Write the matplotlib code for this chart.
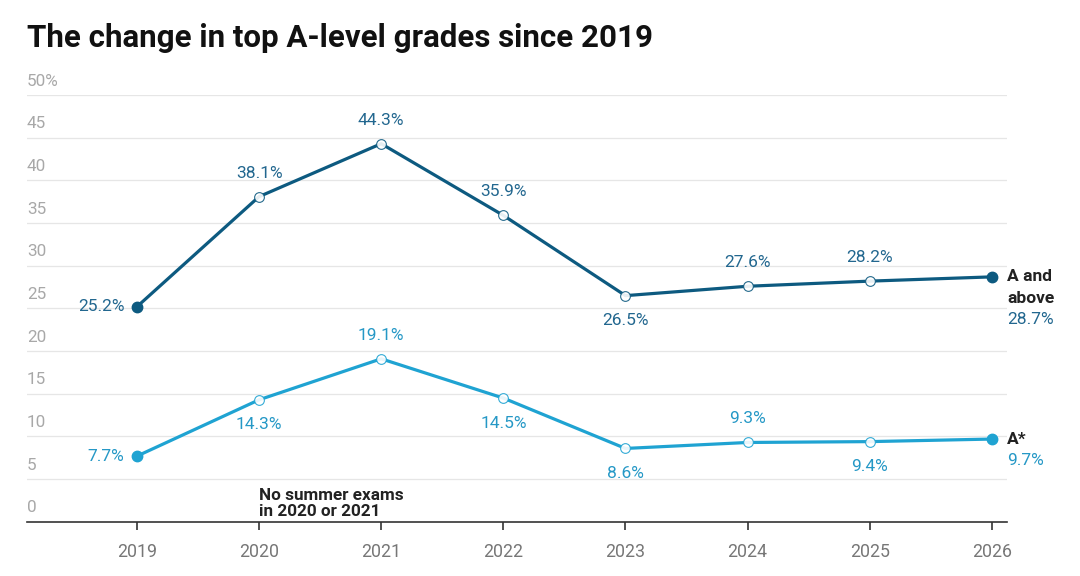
import numpy as np
import matplotlib.pyplot as plt

plt.rcParams['font.family'] = ['Roboto', 'DejaVu Sans']

years = [2019, 2020, 2021, 2022, 2023, 2024, 2025, 2026]
a_above = [25.2, 38.1, 44.3, 35.9, 26.5, 27.6, 28.2, 28.7]
a_star = [7.7, 14.3, 19.1, 14.5, 8.6, 9.3, 9.4, 9.7]
# where each value label sits
a_above_pos = ['left', 'above', 'above', 'above', 'below', 'above', 'above', 'end']
a_star_pos = ['left', 'below', 'above', 'below', 'below', 'above', 'below', 'end']
yticks = [0, 5, 10, 15, 20, 25, 30, 35, 40, 45, 50]
ytick_labels = ['0', '5', '10', '15', '20', '25', '30', '35', '40', '45', '50%']

dark = '#0d5a80'
dark_txt = '#22678f'
light = '#1fa3d2'
light_txt = '#2598c6'
grey = '#a8a8a8'

fig = plt.figure(figsize=(10.8, 5.76), dpi=100)
ax = fig.add_axes([0.025, 0.094, 0.907, 0.741])

for t, tl in zip(yticks, ytick_labels):
    if t > 0:
        ax.axhline(t, color='#e6e6e6', lw=0.9, zorder=0)
    ax.text(2018.1, t + 0.75, tl, color=grey, fontsize=12.3,
            ha='left', va='bottom')


def draw(vals, pos, col, txtcol, name):
    ax.plot(years, vals, color=col, lw=2.3, zorder=2, solid_capstyle='round')
    ax.plot(years[1:-1], vals[1:-1], 'o', ms=7, mfc='white', mec=col,
            mew=0.8, zorder=3, alpha=0.9)
    ax.plot([years[0], years[-1]], [vals[0], vals[-1]], 'o', ms=7.5,
            color=col, zorder=4)
    for x, v, p in zip(years, vals, pos):
        lab = f'{v}%'
        kw = dict(textcoords='offset points', color=txtcol, fontsize=12.5,
                  annotation_clip=False)
        if p == 'above':
            ax.annotate(lab, (x, v), xytext=(0, 17), ha='center',
                        va='center', **kw)
        elif p == 'below':
            ax.annotate(lab, (x, v), xytext=(0, -18), ha='center',
                        va='center', **kw)
        elif p == 'left':
            ax.annotate(lab, (x, v), xytext=(-9, 0), ha='right',
                        va='center', **kw)
        else:
            lines = name.split('\n')
            for i, ln in enumerate(lines):
                ax.annotate(ln, (x, v), xytext=(11, -15.5 * i),
                            textcoords='offset points', ha='left',
                            va='center', color='#222222', fontsize=12.5,
                            fontweight='bold', annotation_clip=False)
            ax.annotate(lab, (x, v), xytext=(11, -15.5 * len(lines)),
                        ha='left', va='center', **kw)


draw(a_above, a_above_pos, dark, dark_txt, 'A and\nabove')
draw(a_star, a_star_pos, light, light_txt, 'A*')

ax.text(2020, 0.3, 'No summer exams\nin 2020 or 2021', fontsize=12.3,
        fontweight='bold', color='#222222', ha='left', va='bottom',
        linespacing=1.1)

ax.set_xlim(2018.1, 2026.12)
ax.set_ylim(0, 50)
ax.set_yticks([])
ax.set_xticks(years)
ax.set_xticklabels([str(y) for y in years], color='#777777', fontsize=12.8)
ax.tick_params(axis='x', length=6, width=1.2, color='#333333', pad=9)
for s in ['top', 'right', 'left']:
    ax.spines[s].set_visible(False)
ax.spines['bottom'].set_color('#333333')
ax.spines['bottom'].set_linewidth(1.2)

fig.text(0.025, 0.934, 'The change in top A-level grades since 2019',
         fontsize=22.5, fontweight='bold', color='#111111', ha='left',
         va='center')

plt.savefig('out.png', dpi=100)
